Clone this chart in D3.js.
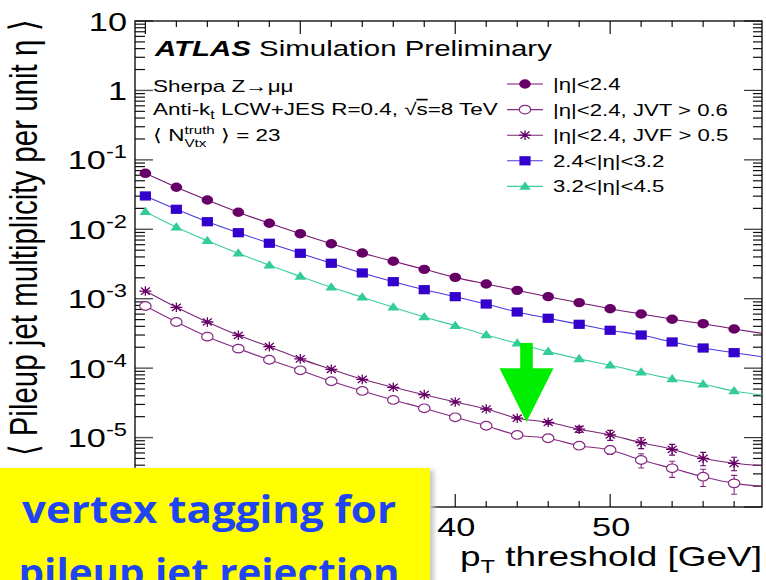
<!DOCTYPE html>
<html>
<head>
<meta charset="utf-8">
<script src="https://cdn.jsdelivr.net/npm/d3@7"></script>
<style>
  body { margin: 0; background: #fff; }
  svg { display: block; }
  text { font-family: "Liberation Sans", Arial, Helvetica, sans-serif; }
  text.note { font-family: "Open Sans", Lato, sans-serif; font-weight: bold; }
</style>
</head>
<body>
<svg id="chart" width="766" height="580"></svg>
<script>
// pT thresholds [GeV]
const thresholds = [20, 22, 24, 26, 28, 30, 32, 34, 36, 38, 40, 42, 44, 46, 48, 50, 52, 54, 56, 58];

// pileup jet multiplicity per unit eta
const central = [0.064, 0.0403, 0.0264, 0.0176, 0.0122, 0.00864, 0.0062, 0.00455, 0.00346, 0.00265,
                 0.00203, 0.00163, 0.00132, 0.00107, 0.000877, 0.000718, 0.000603, 0.000506, 0.000437, 0.000366];
const centralJVT = [0.000785, 0.000462, 0.000284, 0.000191, 0.000132, 0.0000931, 0.0000647, 0.0000469, 0.0000348, 0.0000264,
                    0.0000196, 0.0000148, 0.0000109, 0.00000977, 0.00000764, 0.00000662, 0.00000475, 0.00000361, 0.00000273, 0.00000219];
const centralJVF = [0.00129, 0.000752, 0.000462, 0.000297, 0.000204, 0.000136, 0.0000963, 0.000069, 0.000053, 0.0000415,
                    0.0000326, 0.0000258, 0.000019, 0.0000166, 0.0000132, 0.0000109, 0.00000844, 0.00000678, 0.00000503, 0.00000426];
const forward = [0.0302, 0.0194, 0.01286, 0.00893, 0.00629, 0.00451, 0.00324, 0.00235, 0.00176, 0.00135,
                 0.00107, 0.000839, 0.000644, 0.000523, 0.000428, 0.000351, 0.0003, 0.000238, 0.000195, 0.000167];
const farForward = [0.0179, 0.0107, 0.00685, 0.00451, 0.00303, 0.0021, 0.00146, 0.00105, 0.000752, 0.000546,
                    0.000409, 0.0003, 0.000228, 0.000173, 0.000136, 0.00011, 0.0000871, 0.0000698, 0.0000585, 0.0000469];

// statistical uncertainties (only visible ones)
const errJVT = [0, 0, 0, 0, 0, 0, 0, 0, 0, 0,
                0, 0, 0, 0.5e-6, 0.7e-6, 0.9e-6, 1.1e-6, 0.94e-6, 0.76e-6, 0.66e-6];
const errJVF = [0, 0, 0, 0, 0, 0, 0, 0, 0, 0,
                0, 0, 0.8e-6, 1.0e-6, 1.3e-6, 1.8e-6, 1.5e-6, 1.2e-6, 1.1e-6, 0.94e-6];

// smooth curves continue to 60 GeV
const curveEndX = 60;
const curveEnd = { central: 0.000312, centralJVT: 0.00000198, centralJVF: 0.0000039, forward: 0.000144, farForward: 0.0000405 };

const legendLabels = ["|η|<2.4", "|η|<2.4, JVT > 0.6", "|η|<2.4, JVF > 0.5", "2.4<|η|<3.2", "3.2<|η|<4.5"];
const yTickExponents = [1, 0, -1, -2, -3, -4, -5];
const xTickLabels = [40, 50];

// arrow highlighting the tagged curves
const arrowX = 44.6, arrowTop = 2.3e-4, arrowHeadBase = 1.0e-4, arrowTip = 1.67e-5;

const SX = 1.32; // horizontal glyph aspect

const svg = d3.select("#chart");
const L = 135, R = 762, T = 21, B = 507;
const x = d3.scaleLinear().domain([19.33, 59.8]).range([L, R]);
const y = d3.scaleLog().domain([1e-6, 10]).range([B, T]);

function stext(parent, px, py, str, size, anchor) {
  const t = parent.append("text")
    .attr("transform", `translate(${px},${py}) scale(${SX},1)`)
    .attr("font-size", size)
    .attr("fill", "#000");
  if (anchor) t.attr("text-anchor", anchor);
  if (str !== null) t.text(str);
  return t;
}

// ---- frame and ticks ----
const axes = svg.append("g");
const tickCol = "#111";
const xMinor = d3.range(20, 60, 2);
xMinor.forEach(v => {
  const major = v % 10 === 0;
  const len = major ? 13 : 6;
  axes.append("line").attr("x1", x(v)).attr("x2", x(v)).attr("y1", B).attr("y2", B - len).attr("stroke", tickCol).attr("stroke-width", 1.2);
  axes.append("line").attr("x1", x(v)).attr("x2", x(v)).attr("y1", T).attr("y2", T + len).attr("stroke", tickCol).attr("stroke-width", 1.2);
});
for (let e = -6; e <= 1; e++) {
  for (let m = 1; m <= 9; m++) {
    const v = m * Math.pow(10, e);
    if (v < 1e-6 || v > 10) continue;
    const major = m === 1;
    const len = major ? 18 : 10;
    axes.append("line").attr("x1", L).attr("x2", L + len).attr("y1", y(v)).attr("y2", y(v))
      .attr("stroke", major ? "#555" : tickCol).attr("stroke-width", major ? 1.4 : 1.2);
    axes.append("line").attr("x1", R).attr("x2", R - (major ? 18 : 9)).attr("y1", y(v)).attr("y2", y(v))
      .attr("stroke", major ? "#333" : tickCol).attr("stroke-width", 1.2);
  }
}
axes.append("rect").attr("x", L).attr("y", T).attr("width", R - L).attr("height", B - T)
  .attr("fill", "none").attr("stroke", "#000").attr("stroke-width", 1.3);

// y tick labels
yTickExponents.forEach(e => {
  const py = y(Math.pow(10, e));
  if (e === 0) { stext(svg, 127, py + 9.5, "1", 26, "end"); return; }
  const t = stext(svg, 127, py + 9.5, null, 26, "end");
  t.append("tspan").text("10");
  if (e !== 1) t.append("tspan").attr("font-size", 18).attr("dy", -11).text(String(e));
});
// x tick labels
xTickLabels.forEach(v => stext(svg, x(v) + 1, 536, String(v), 26, "middle"));

// axis titles
const xt = stext(svg, 762, 566, null, 28, "end");
xt.append("tspan").text("p");
xt.append("tspan").attr("font-size", 18).attr("dy", 7).text("T");
xt.append("tspan").attr("dy", -7).text(" threshold [GeV]");

svg.append("text")
  .attr("transform", `translate(37,238) scale(${SX},1) rotate(-90)`)
  .attr("font-size", 29.5).attr("text-anchor", "middle")
  .text("⟨ Pileup jet multiplicity per unit η ⟩");

// ---- series ----
const defs = svg.append("defs");
defs.append("clipPath").attr("id", "plotClip").append("rect")
  .attr("x", L).attr("y", T).attr("width", R - L).attr("height", B - T);

const series = [
  { key: "central", vals: central, marker: "circle", color: "#660066", line: "#741570" },
  { key: "centralJVT", vals: centralJVT, marker: "open", color: "#862a84", line: "#862a84", err: errJVT },
  { key: "centralJVF", vals: centralJVF, marker: "star", color: "#660066", line: "#7a2476", err: errJVF },
  { key: "forward", vals: forward, marker: "square", color: "#3300cc", line: "#4836dd" },
  { key: "farForward", vals: farForward, marker: "triangle", color: "#33cc99", line: "#3acf9e" }
];

const lineGen = d3.line().x(d => x(d[0])).y(d => y(d[1])).curve(d3.curveMonotoneX);

function drawMarker(g, type, px, py, color) {
  if (type === "circle") {
    g.append("ellipse").attr("cx", px).attr("cy", py).attr("rx", 5.8).attr("ry", 4.7).attr("fill", color);
  } else if (type === "open") {
    g.append("ellipse").attr("cx", px).attr("cy", py).attr("rx", 5.7).attr("ry", 4.3)
      .attr("fill", "#fff").attr("stroke", color).attr("stroke-width", 1.2);
  } else if (type === "square") {
    g.append("rect").attr("x", px - 5.6).attr("y", py - 4.6).attr("width", 11.2).attr("height", 9.2).attr("fill", color);
  } else if (type === "triangle") {
    g.append("path").attr("d", `M${px},${py - 5} L${px + 5.9},${py + 3.3} L${px - 5.9},${py + 3.3} Z`).attr("fill", color);
  } else if (type === "star") {
    const hx = 6, hy = 4.8;
    const d = `M${px - hx},${py} L${px + hx},${py} M${px},${py - hy} L${px},${py + hy} ` +
      `M${px - hx * 0.75},${py - hy * 0.75} L${px + hx * 0.75},${py + hy * 0.75} ` +
      `M${px - hx * 0.75},${py + hy * 0.75} L${px + hx * 0.75},${py - hy * 0.75}`;
    g.append("path").attr("d", d).attr("stroke", color).attr("stroke-width", 1.3).attr("fill", "none");
    g.append("ellipse").attr("cx", px).attr("cy", py).attr("rx", 2).attr("ry", 1.7).attr("fill", color);
  }
}

const plot = svg.append("g").attr("clip-path", "url(#plotClip)");
series.forEach(s => {
  const pts = thresholds.map((t, i) => [t, s.vals[i]]);
  pts.push([curveEndX, curveEnd[s.key]]);
  plot.append("path").attr("d", lineGen(pts)).attr("fill", "none").attr("stroke", s.line).attr("stroke-width", 1.1);
});
series.forEach(s => {
  const g = plot.append("g");
  thresholds.forEach((t, i) => {
    const v = s.vals[i];
    if (s.err && s.err[i] > 0) {
      const e = s.err[i], px = x(t);
      g.append("path")
        .attr("d", `M${px},${y(v - e)} L${px},${y(v + e)} M${px - 3},${y(v - e)} L${px + 3},${y(v - e)} M${px - 3},${y(v + e)} L${px + 3},${y(v + e)}`)
        .attr("stroke", s.color).attr("stroke-width", 1.1).attr("fill", "none");
    }
  });
  thresholds.forEach((t, i) => drawMarker(g, s.marker, x(t), y(s.vals[i]), s.color));
});

// ---- legend ----
const leg = svg.append("g");
series.forEach((s, i) => {
  const cy = 84 + i * 25.6;
  leg.append("line").attr("x1", 507).attr("x2", 543).attr("y1", cy).attr("y2", cy).attr("stroke", s.line).attr("stroke-width", 1.1);
  drawMarker(leg, s.marker, 525, cy, s.color);
  stext(leg, 553, cy + 6, legendLabels[i], 16.8);
});

// ---- labels ----
const lab = svg.append("g");
const atl = stext(lab, 155, 56, null, 22.3);
atl.append("tspan").attr("font-weight", "bold").attr("font-style", "italic").text("ATLAS");
atl.append("tspan").text(" Simulation Preliminary");

stext(lab, 153, 92, "Sherpa Z→μμ", 17);
const ak = stext(lab, 153, 115, null, 17);
ak.append("tspan").text("Anti-k");
ak.append("tspan").attr("font-size", 12).attr("dy", 4).text("t");
ak.append("tspan").attr("dy", -4).text(" LCW+JES R=0.4, √");
ak.append("tspan").attr("text-decoration", "overline").text("s");
ak.append("tspan").text("=8 TeV");

const nv = stext(lab, 153, 141, null, 17);
nv.append("tspan").text("⟨ N");
const sup = nv.append("tspan").attr("font-size", 11.5).attr("dy", -7.5).text("truth");
const supW = sup.node().getComputedTextLength();
const sub = nv.append("tspan").attr("font-size", 11.5).attr("dy", 13).text("Vtx");
const subW = sub.node().getComputedTextLength();
sub.attr("dx", -supW);
nv.append("tspan").attr("dy", -5.5).attr("dx", supW - subW).text(" ⟩ = 23");

// ---- arrow ----
const ax = x(arrowX);
svg.append("path")
  .attr("d", `M${ax - 6.3},${y(arrowTop)} L${ax + 6.3},${y(arrowTop)} L${ax + 6.3},${y(arrowHeadBase)} ` +
    `L${ax + 27},${y(arrowHeadBase)} L${ax},${y(arrowTip)} L${ax - 27},${y(arrowHeadBase)} ` +
    `L${ax - 6.3},${y(arrowHeadBase)} Z`)
  .attr("fill", "#00ee00");

// ---- note box ----
const shadow = defs.append("filter").attr("id", "soft").attr("x", "-10%").attr("y", "-10%").attr("width", "120%").attr("height", "120%");
shadow.append("feGaussianBlur").attr("stdDeviation", 2.5);
svg.append("rect").attr("x", 0).attr("y", 470).attr("width", 434).attr("height", 120).attr("fill", "#c8c8c8").attr("filter", "url(#soft)");
svg.append("rect").attr("x", 0).attr("y", 468).attr("width", 430).attr("height", 112).attr("fill", "#ffff00");
const noteLines = ["vertex tagging for", "pileup jet rejection"];
const noteBase = [523, 586];
noteLines.forEach((str, i) => {
  const t = svg.append("text").attr("class", "note")
    .attr("font-size", 37).attr("fill", "#1f44f2").attr("text-anchor", "middle").text(str);
  const w = t.node().getComputedTextLength();
  const target = i === 0 ? 374 : 381;
  t.attr("transform", `translate(209,${noteBase[i]}) scale(${target / w},1)`);
});
</script>
</body>
</html>
